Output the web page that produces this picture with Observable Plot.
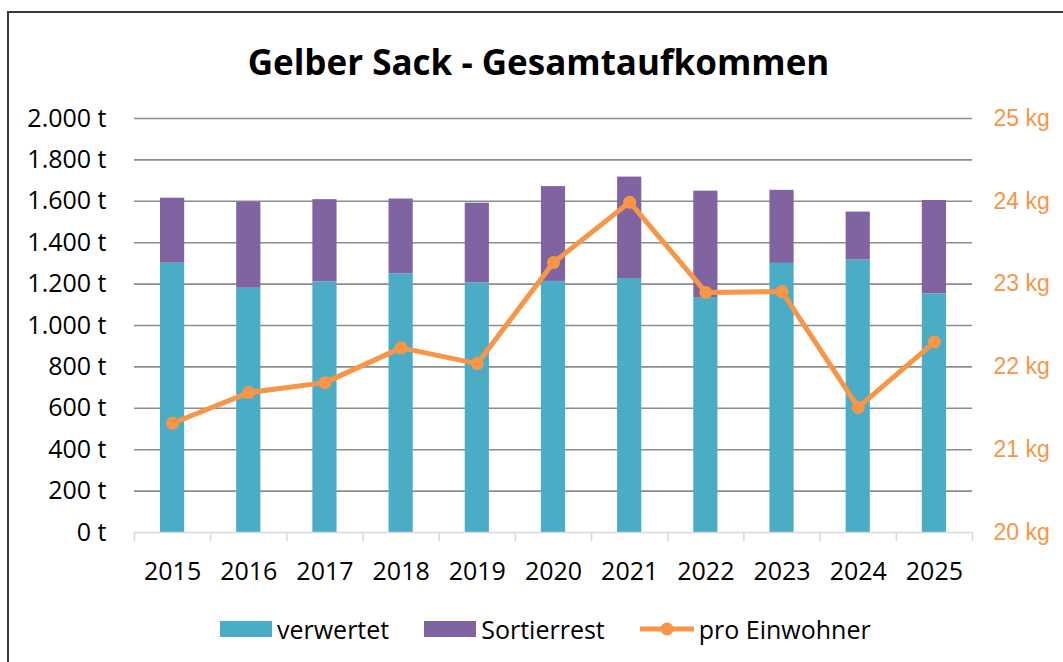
<!DOCTYPE html>
<html>
<head>
<meta charset="utf-8">
<script src="https://cdn.jsdelivr.net/npm/d3@7"></script>
<script src="https://cdn.jsdelivr.net/npm/@observablehq/plot@0.6"></script>
<style>
  html, body { margin: 0; padding: 0; background: #fff; overflow: hidden; }
  #wrap { position: relative; width: 1063px; height: 662px; overflow: hidden; font-family: "Open Sans", sans-serif; }
  #frame { position: absolute; left: 7px; top: 11px; width: 1200px; height: 800px; border-top: 2px solid #3a3a3a; border-left: 2px solid #3a3a3a; }
  #title { position: absolute; left: 0; width: 1077px; top: 35px; text-align: center; font-weight: 700; font-size: 35px; line-height: 54px; color: #000; }
  #chart { position: absolute; left: 0; top: 90px; }
  #legend { position: absolute; left: 220px; top: 612px; display: flex; align-items: center; gap: 35px; font-size: 25px; color: #000; }
  .item { display: flex; align-items: center; gap: 5px; }
  .sw { width: 52px; height: 16px; }
</style>
</head>
<body>
<div id="wrap">
  <div id="frame"></div>
  <div id="title">Gelber Sack - Gesamtaufkommen</div>
  <div id="chart"></div>
  <div id="legend"></div>
</div>
<script>
const years = [2015, 2016, 2017, 2018, 2019, 2020, 2021, 2022, 2023, 2024, 2025];
const verwertet = [1301, 1180, 1211, 1250, 1206, 1213, 1227, 1132, 1300, 1316, 1153];
const sortierrest = [314, 416, 397, 361, 385, 458, 490, 517, 353, 232, 451];
const proEinwohner = [21.32, 21.69, 21.81, 22.23, 22.04, 23.26, 23.99, 22.90, 22.91, 21.51, 22.30];
const leftTicks = [0, 200, 400, 600, 800, 1000, 1200, 1400, 1600, 1800, 2000];
const rightTicks = [20, 21, 22, 23, 24, 25];
const seriesNames = ["verwertet", "Sortierrest", "pro Einwohner"];
const colors = ["#4bacc6", "#8064a2", "#f79646"];

const leftDomain = [0, 2000];
const rightDomain = [20, 25];
const factor = (leftDomain[1] - leftDomain[0]) / (rightDomain[1] - rightDomain[0]);
const kgToT = kg => leftDomain[0] + (kg - rightDomain[0]) * factor;
const tToKg = t => rightDomain[0] + (t - leftDomain[0]) / factor;

const rows = years.map((year, i) => ({
  year,
  verwertet: verwertet[i],
  sortierrest: sortierrest[i],
  kg: proEinwohner[i]
}));
const boundaries = years.map(y => y - 0.5).concat([years[years.length - 1] + 0.5]);
const fmtT = d => d3.format(",")(d).replace(/,/g, ".") + " t";

const chart = Plot.plot({
  width: 1063,
  height: 510,
  marginLeft: 134,
  marginRight: 91,
  marginTop: 28,
  marginBottom: 68,
  style: { fontFamily: "'Open Sans', sans-serif", fontSize: "25px", color: "#000", background: "transparent" },
  x: { type: "linear", domain: [years[0] - 0.5, years[years.length - 1] + 0.5] },
  y: { domain: leftDomain },
  marks: [
    Plot.ruleY(leftTicks.filter(d => d > 0), { stroke: "#8c8c8c", strokeWidth: 1.6 }),
    Plot.rectY(rows, {
      x1: d => d.year - 0.5, x2: d => d.year + 0.5,
      y1: 0, y2: d => d.verwertet,
      fill: colors[0], insetLeft: 26, insetRight: 26
    }),
    Plot.rectY(rows, {
      x1: d => d.year - 0.5, x2: d => d.year + 0.5,
      y1: d => d.verwertet, y2: d => d.verwertet + d.sortierrest,
      fill: colors[1], insetLeft: 26, insetRight: 26
    }),
    Plot.ruleY([0], { stroke: "#d9d9d9", strokeWidth: 1.6 }),
    Plot.axisX(boundaries, { tickSize: 9, tickFormat: () => "", stroke: "#d9d9d9", strokeWidth: 1.6, label: null }),
    Plot.axisX(years, { tickSize: 0, tickPadding: 30, tickFormat: d => String(d), fontSize: 25, label: null }),
    Plot.axisY(leftTicks, { anchor: "left", tickSize: 0, tickPadding: 28, tickFormat: fmtT, fontSize: 25, label: null }),
    Plot.axisY(rightTicks.map(kgToT), {
      anchor: "right", tickSize: 0, tickPadding: 21,
      tickFormat: d => Math.round(tToKg(d)) + " kg",
      fill: colors[2], color: colors[2], fontFamily: "'Liberation Sans', Arial, sans-serif", fontSize: 23, label: null
    }),
    Plot.line(rows, { x: "year", y: d => kgToT(d.kg), stroke: colors[2], strokeWidth: 5 }),
    Plot.dot(rows, { x: "year", y: d => kgToT(d.kg), r: 6.5, fill: colors[2] })
  ]
});
document.getElementById("chart").appendChild(chart);

// Legend
const legend = document.getElementById("legend");
seriesNames.forEach((name, i) => {
  const item = document.createElement("div");
  item.className = "item";
  if (i < 2) {
    const sw = document.createElement("div");
    sw.className = "sw";
    sw.style.background = colors[i];
    item.appendChild(sw);
  } else {
    const ns = "http://www.w3.org/2000/svg";
    const svg = document.createElementNS(ns, "svg");
    svg.setAttribute("width", "54");
    svg.setAttribute("height", "20");
    const line = document.createElementNS(ns, "line");
    line.setAttribute("x1", "1"); line.setAttribute("x2", "53");
    line.setAttribute("y1", "10"); line.setAttribute("y2", "10");
    line.setAttribute("stroke", colors[i]); line.setAttribute("stroke-width", "5");
    line.setAttribute("stroke-linecap", "round");
    const c = document.createElementNS(ns, "circle");
    c.setAttribute("cx", "27"); c.setAttribute("cy", "10"); c.setAttribute("r", "6.5");
    c.setAttribute("fill", colors[i]);
    svg.appendChild(line); svg.appendChild(c);
    item.appendChild(svg);
  }
  const t = document.createElement("span");
  t.textContent = name;
  item.appendChild(t);
  legend.appendChild(item);
});
</script>
</body>
</html>
